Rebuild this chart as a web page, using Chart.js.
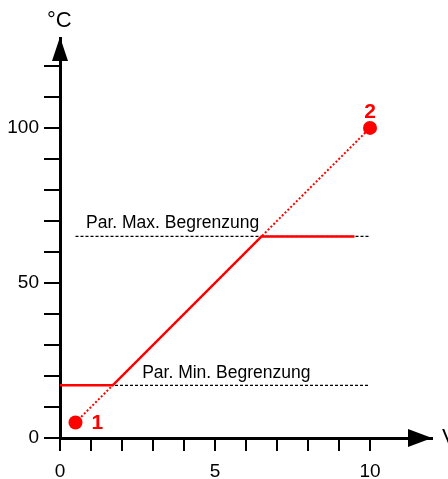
<!DOCTYPE html>
<html>
<head>
<meta charset="utf-8">
<script src="https://cdn.jsdelivr.net/npm/chart.js@4.4.0/dist/chart.umd.min.js"></script>
<style>
    html, body { margin: 0; padding: 0; background: #fff; }
    #wrap { width: 448px; height: 479px; position: relative; }
</style>
</head>
<body>
<div id="wrap"><canvas id="chart"></canvas></div>
<script>
// Values
const endpointX = [0.5, 10];
const endpointY = [5, 100];
const endpointLabels = ['1', '2'];

const curveX = [0, 1.7, 6.5, 9.5];
const curveY = [17, 17, 65, 65];

const limitMin = 17;
const limitMax = 65;
const limitMinX = [0, 10];
const limitMaxX = [0.5, 10];
const limitNames = ['Par. Min. Begrenzung', 'Par. Max. Begrenzung'];

const xTickLabels = [0, 5, 10];
const yTickLabels = [0, 50, 100];
const xUnit = 'V';
const yUnit = '°C';

const RED = '#ff0000';
const FONT = '"Liberation Sans", Arial, sans-serif';

const toPoints = (xs, ys) => xs.map((x, i) => ({ x, y: ys[i] }));

// Arrow heads, unit labels and the text above the limit lines
const decorations = {
    id: 'decorations',
    afterDraw(chart) {
        const { ctx, chartArea: area, scales: { x, y } } = chart;
        const x0 = x.getPixelForValue(0);
        const y0 = y.getPixelForValue(0);

        ctx.save();
        ctx.fillStyle = '#000';

        // y arrow
        ctx.beginPath();
        ctx.moveTo(x0, area.top - 1);
        ctx.lineTo(x0 - 8, area.top + 23);
        ctx.lineTo(x0 + 8, area.top + 23);
        ctx.closePath();
        ctx.fill();

        // x arrow
        ctx.beginPath();
        ctx.moveTo(area.right, y0);
        ctx.lineTo(area.right - 24, y0 - 9);
        ctx.lineTo(area.right - 24, y0 + 9);
        ctx.closePath();
        ctx.fill();

        ctx.font = '22px ' + FONT;
        ctx.textBaseline = 'middle';
        ctx.textAlign = 'left';
        ctx.fillText(yUnit, x0 - 13, 21);
        ctx.fillText(xUnit, area.right + 10, y0);

        // limit captions
        ctx.font = '17.5px ' + FONT;
        ctx.textBaseline = 'alphabetic';
        ctx.fillText(limitNames[0], x.getPixelForValue(2.65), y.getPixelForValue(limitMin) - 7);
        ctx.fillText(limitNames[1], x.getPixelForValue(0.84), y.getPixelForValue(limitMax) - 8);

        // endpoint numbers
        ctx.fillStyle = RED;
        ctx.font = 'bold 21px ' + FONT;
        ctx.textBaseline = 'middle';
        ctx.fillText(endpointLabels[0], x.getPixelForValue(endpointX[0]) + 16, y.getPixelForValue(endpointY[0]) + 1);
        ctx.textAlign = 'center';
        ctx.fillText(endpointLabels[1], x.getPixelForValue(endpointX[1]), y.getPixelForValue(endpointY[1]) - 16);

        ctx.restore();
    }
};

const ctx = document.getElementById('chart').getContext('2d');
ctx.canvas.setAttribute('role', 'img');
ctx.canvas.setAttribute('aria-label', 'Kennlinie mit Min.- und Max.-Begrenzung');

new Chart(ctx, {
    type: 'scatter',
    data: {
        datasets: [
            {
                label: 'Kennlinie',
                data: toPoints(curveX, curveY),
                showLine: true,
                borderColor: RED,
                borderWidth: 2.5,
                pointRadius: 0,
                order: 1
            },
            {
                label: 'Verlauf',
                data: toPoints(endpointX, endpointY),
                showLine: true,
                borderColor: RED,
                borderWidth: 2,
                borderDash: [2, 2],
                pointRadius: 7,
                pointBackgroundColor: RED,
                pointBorderWidth: 0,
                order: 2
            },
            {
                label: limitNames[0],
                data: toPoints(limitMinX, [limitMin, limitMin]),
                showLine: true,
                borderColor: '#000',
                borderWidth: 1.3,
                borderDash: [3, 2],
                pointRadius: 0,
                order: 3
            },
            {
                label: limitNames[1],
                data: toPoints(limitMaxX, [limitMax, limitMax]),
                showLine: true,
                borderColor: '#000',
                borderWidth: 1.3,
                borderDash: [3, 2],
                pointRadius: 0,
                order: 3
            }
        ]
    },
    options: {
        responsive: true,
        maintainAspectRatio: false,
        animation: false,
        layout: { padding: { top: 38, right: 16, left: 0, bottom: 0 } },
        plugins: {
            legend: { display: false },
            tooltip: { enabled: false }
        },
        scales: {
            x: {
                type: 'linear',
                min: 0,
                max: 12,
                afterFit: scale => { scale.height = 41; },
                afterBuildTicks: scale => { scale.ticks = scale.ticks.filter(t => t.value <= 10); },
                grid: { drawOnChartArea: false, drawTicks: true, tickLength: 13, color: '#000', lineWidth: 2 },
                border: { color: '#000', width: 3 },
                ticks: {
                    stepSize: 1,
                    autoSkip: false,
                    maxRotation: 0,
                    includeBounds: false,
                    padding: 9,
                    color: '#000',
                    font: { family: FONT, size: 19 },
                    callback: v => xTickLabels.includes(v) ? String(v) : ''
                }
            },
            y: {
                type: 'linear',
                min: 0,
                max: 129,
                afterFit: scale => { scale.width = 60; },
                afterBuildTicks: scale => { scale.ticks = scale.ticks.filter(t => t.value <= 120); },
                grid: { drawOnChartArea: false, drawTicks: true, tickLength: 16, color: '#000', lineWidth: 2 },
                border: { color: '#000', width: 3 },
                ticks: {
                    stepSize: 10,
                    autoSkip: false,
                    includeBounds: false,
                    padding: 5,
                    color: '#000',
                    font: { family: FONT, size: 19 },
                    callback: v => yTickLabels.includes(v) ? String(v) : ''
                }
            }
        }
    },
    plugins: [decorations]
});
</script>
</body>
</html>
